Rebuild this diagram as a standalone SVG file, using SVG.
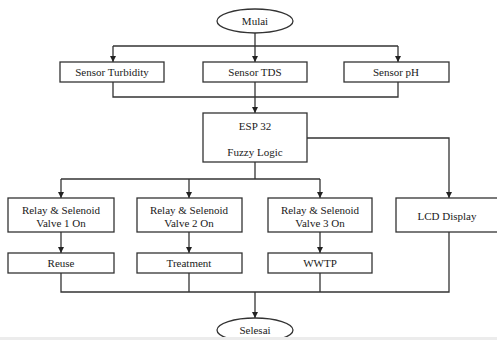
<svg xmlns="http://www.w3.org/2000/svg" width="497" height="340" viewBox="0 0 497 340">
<defs>
<style>
.box{fill:#fff;stroke:#333;stroke-width:1.3}
.ln{fill:none;stroke:#333;stroke-width:1.3}
.t{font-family:"Liberation Serif","Times New Roman",serif;font-size:11px;fill:#1a1a1a;text-anchor:middle;dominant-baseline:central}
</style>
<marker id="ah" viewBox="0 0 10 10" refX="10" refY="5" markerWidth="6" markerHeight="6" markerUnits="userSpaceOnUse" orient="auto">
<path d="M0,0 L10,5 L0,10 z" fill="#222"/>
</marker>
</defs>
<rect x="0" y="0" width="497" height="340" fill="#fff"/>
<g id="connectors">
<path class="ln" d="M255,33 V46"/>
<path class="ln" d="M113,46 H398"/>
<path class="ln" d="M113,46 V62" marker-end="url(#ah)"/>
<path class="ln" d="M255,46 V62" marker-end="url(#ah)"/>
<path class="ln" d="M398,46 V62" marker-end="url(#ah)"/>
<path class="ln" d="M113,82 V97 H398 V82"/>
<path class="ln" d="M255,82 V113" marker-end="url(#ah)"/>
<path class="ln" d="M307,138 H449 V198" marker-end="url(#ah)"/>
<path class="ln" d="M255,162 V179"/>
<path class="ln" d="M61,179 H320"/>
<path class="ln" d="M61,179 V198" marker-end="url(#ah)"/>
<path class="ln" d="M189,179 V198" marker-end="url(#ah)"/>
<path class="ln" d="M320,179 V198" marker-end="url(#ah)"/>
<path class="ln" d="M61,232 V253" marker-end="url(#ah)"/>
<path class="ln" d="M189,232 V253" marker-end="url(#ah)"/>
<path class="ln" d="M320,232 V253" marker-end="url(#ah)"/>
<path class="ln" d="M61,273 V292 H449 V232"/>
<path class="ln" d="M189,273 V292"/>
<path class="ln" d="M320,273 V292"/>
<path class="ln" d="M255,292 V318" marker-end="url(#ah)"/>
</g>
<g id="mulai"><ellipse class="box" cx="255" cy="21" rx="38" ry="12"/><text class="t" font-family="Liberation Serif, serif" x="255" y="21">Mulai</text></g>
<g id="sensor-turbidity"><rect class="box" x="60" y="62" width="104" height="20"/><text class="t" font-family="Liberation Serif, serif" x="112" y="72">Sensor Turbidity</text></g>
<g id="sensor-tds"><rect class="box" x="203" y="62" width="104" height="20"/><text class="t" font-family="Liberation Serif, serif" x="255" y="72">Sensor TDS</text></g>
<g id="sensor-ph"><rect class="box" x="344" y="62" width="105" height="20"/><text class="t" font-family="Liberation Serif, serif" x="396" y="72">Sensor pH</text></g>
<g id="esp32"><rect class="box" x="203" y="113" width="104" height="49"/><text class="t" font-family="Liberation Serif, serif" x="255" y="126">ESP 32</text><text class="t" font-family="Liberation Serif, serif" x="255" y="152">Fuzzy Logic</text></g>
<g id="relay1"><rect class="box" x="8" y="198" width="106" height="34"/><text class="t" font-family="Liberation Serif, serif" x="61" y="210">Relay &amp; Selenoid</text><text class="t" font-family="Liberation Serif, serif" x="61" y="223">Valve 1 On</text></g>
<g id="relay2"><rect class="box" x="137" y="198" width="105" height="34"/><text class="t" font-family="Liberation Serif, serif" x="189" y="210">Relay &amp; Selenoid</text><text class="t" font-family="Liberation Serif, serif" x="189" y="223">Valve 2 On</text></g>
<g id="relay3"><rect class="box" x="268" y="198" width="104" height="34"/><text class="t" font-family="Liberation Serif, serif" x="320" y="210">Relay &amp; Selenoid</text><text class="t" font-family="Liberation Serif, serif" x="320" y="223">Valve 3 On</text></g>
<g id="lcd"><rect class="box" x="396" y="198" width="106" height="34"/><text class="t" font-family="Liberation Serif, serif" x="447" y="216">LCD Display</text></g>
<g id="reuse"><rect class="box" x="8" y="253" width="106" height="20"/><text class="t" font-family="Liberation Serif, serif" x="61" y="263">Reuse</text></g>
<g id="treatment"><rect class="box" x="137" y="253" width="105" height="20"/><text class="t" font-family="Liberation Serif, serif" x="189" y="263">Treatment</text></g>
<g id="wwtp"><rect class="box" x="268" y="253" width="104" height="20"/><text class="t" font-family="Liberation Serif, serif" x="320" y="263">WWTP</text></g>
<g id="selesai"><ellipse class="box" cx="255" cy="330" rx="38" ry="12"/><text class="t" font-family="Liberation Serif, serif" x="255" y="330">Selesai</text></g>
<rect x="0" y="337" width="497" height="3" fill="#ececec"/>
</svg>
